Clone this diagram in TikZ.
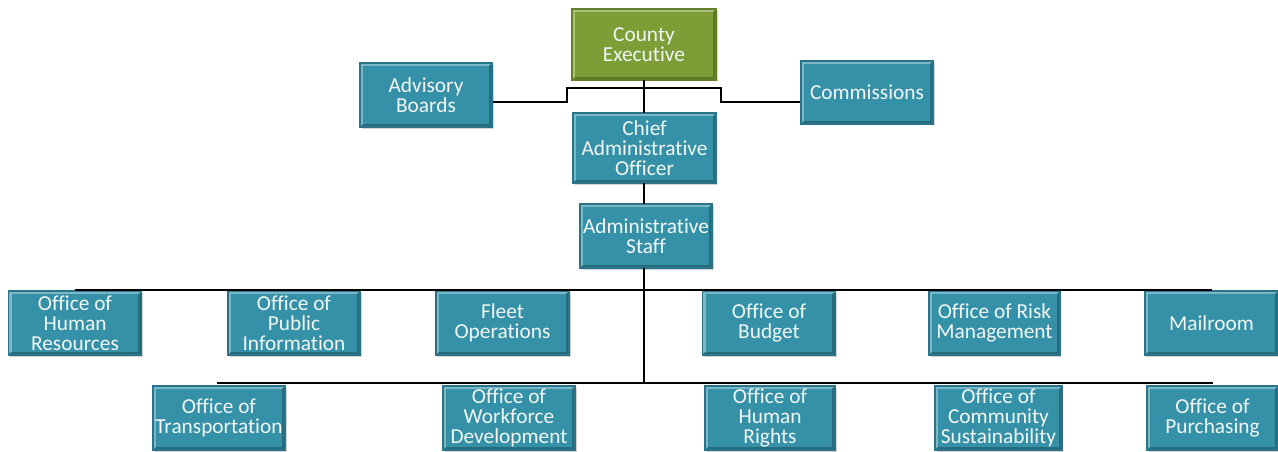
\documentclass[tikz,border=0pt]{standalone}
\usepackage{fontspec}
\setmainfont{Carlito}[Ligatures=NoCommon]
\usetikzlibrary{shadows}
\definecolor{tealbox}{HTML}{3591A8}
\definecolor{tealedge}{HTML}{2A7489}
\definecolor{greenbox}{HTML}{7D9E36}
\definecolor{greenedge}{HTML}{647F28}
\definecolor{boxtext}{HTML}{F2F6F4}
\tikzset{
  bevel/.style={path picture={
    \draw[white, opacity=0.35, line width=1.6pt]
      ([shift={(1.6pt,1.6pt)}]path picture bounding box.south west) |-
      ([shift={(-1.6pt,-1.6pt)}]path picture bounding box.north east);
    \draw[black, opacity=0.25, line width=1.6pt]
      ([shift={(1.6pt,1.6pt)}]path picture bounding box.south west) -|
      ([shift={(-1.6pt,-1.6pt)}]path picture bounding box.north east);}},
  orgbox/.style={draw=tealedge, fill=tealbox, line width=1.2pt, text=boxtext,
    align=center, inner sep=0pt, minimum height=48pt, bevel,
    font=\fontsize{16}{15}\selectfont,
    drop shadow={shadow xshift=1.2pt, shadow yshift=-1.2pt, opacity=0.35, fill=black!50}},
  headbox/.style={orgbox, draw=greenedge, fill=greenbox},
  conn/.style={draw=black, line width=2pt}
}
\begin{document}
\begin{tikzpicture}[x=0.75pt,y=-0.75pt]
\useasboundingbox (0,0) rectangle (1278,452);
% top
\node[headbox, minimum width=108pt, minimum height=53pt] (ce) at (644,44.5) {County\\Executive};
\node[orgbox, minimum width=99pt] (ab) at (426,95) {Advisory\\Boards};
\node[orgbox, minimum width=99pt, minimum height=47pt] (com) at (867,92.5) {Commissions};
\node[orgbox, minimum width=107pt, minimum height=52.5pt] (cao) at (644.5,148) {Chief\\Administrative\\Officer};
\node[orgbox, minimum width=99pt] (as) at (646,236) {Administrative\\Staff};
% row 1
\node[orgbox, minimum width=100pt] (hr) at (75,323) {Office of\\Human\\Resources};
\node[orgbox, minimum width=99pt] (pi) at (294,323) {Office of\\Public\\Information};
\node[orgbox, minimum width=100pt] (fo) at (502.5,323) {Fleet\\Operations};
\node[orgbox, minimum width=100pt] (bu) at (769,323) {Office of\\Budget};
\node[orgbox, minimum width=98pt] (rm) at (994.5,323) {Office of Risk\\Management};
\node[orgbox, minimum width=100pt] (mr) at (1211.5,323) {Mailroom};
% row 2
\node[orgbox, minimum width=99pt] (tr) at (219,418) {Office of\\Transportation};
\node[orgbox, minimum width=99pt] (wd) at (509,418) {Office of\\Workforce\\Development};
\node[orgbox, minimum width=97.5pt] (hrt) at (770,418) {Office of\\Human\\Rights};
\node[orgbox, minimum width=95pt] (cs) at (998.5,418) {Office of\\Community\\Sustainability};
\node[orgbox, minimum width=98pt] (pu) at (1212.5,418) {Office of\\Purchasing};
% coordinates
\coordinate (abj) at (ab.east |- 0,102);
\coordinate (l1) at (567,102);
\coordinate (l2) at (567,88);
\coordinate (r2) at (721,88);
\coordinate (r1) at (721,102);
\coordinate (comj) at (com.west |- 0,102);
\coordinate (ceb) at (644,80);
\coordinate (caot) at (644,113);
\coordinate (caob) at (644,183);
\coordinate (ast) at (644,204);
\coordinate (asb) at (644,268);
\coordinate (b1l) at (75,290);
\coordinate (b1r) at (1212,290);
\coordinate (b2l) at (217,383);
\coordinate (b2r) at (1213,383);
\coordinate (b2m) at (644,383);
% connectors
\draw[conn] (abj) -- (l1) -- (l2) -- (r2) -- (r1) -- (comj);
\draw[conn] (ceb) -- (caot);
\draw[conn] (caob) -- (ast);
\draw[conn] (asb) -- (b2m);
\draw[conn] (b1l) -- (b1r);
\draw[conn] (b2l) -- (b2r);
\end{tikzpicture}
\end{document}
